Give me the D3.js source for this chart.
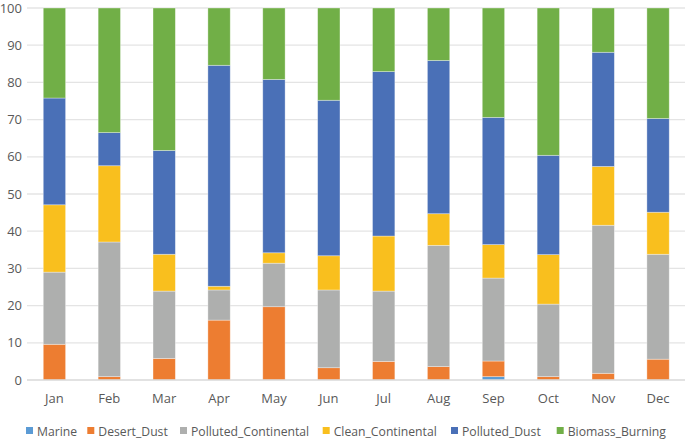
<!DOCTYPE html>
<html><head><meta charset="utf-8">
<script src="https://cdn.jsdelivr.net/npm/d3@7"></script>
<style>
html,body{margin:0;padding:0;background:#fff;}
svg{display:block;font-family:"Open Sans",sans-serif;}
</style></head>
<body><svg id="chart" width="685" height="439"></svg>
<script>
const months = ["Jan","Feb","Mar","Apr","May","Jun","Jul","Aug","Sep","Oct","Nov","Dec"];
const seriesNames = ["Marine","Desert_Dust","Polluted_Continental","Clean_Continental","Polluted_Dust","Biomass_Burning"];
const marine              = [0,   0,    0,    0,    0,    0,    0,    0,    0.9,  0,    0,    0];
const desertDust          = [9.6, 0.9,  5.8,  16.1, 19.7, 3.3,  5.0,  3.6,  4.2,  0.9,  1.8,  5.6];
const pollutedContinental = [19.4,36.2, 18.1, 8.1,  11.7, 20.9, 18.9, 32.6, 22.3, 19.5, 39.8, 28.2];
const cleanContinental    = [18.1,20.5, 9.9,  1.0,  2.8,  9.2,  14.8, 8.5,  9.0,  13.3, 15.8, 11.3];
const pollutedDust        = [28.7,8.9,  27.9, 59.4, 46.6, 41.8, 44.2, 41.2, 34.2, 26.7, 30.7, 25.2];
const biomassBurning      = [24.2,33.5, 38.3, 15.4, 19.2, 24.8, 17.1, 14.1, 29.4, 39.6, 11.9, 29.7];
const yTicks = [0,10,20,30,40,50,60,70,80,90,100];
const colors = ["#5B9BD5","#ED7D31","#AEAFAE","#F9BF1E","#4A70B7","#71AF47"];

const valuesBySeries = [marine, desertDust, pollutedContinental, cleanContinental, pollutedDust, biomassBurning];
const rows = months.map((m,i)=>{
  const r = {month:m};
  seriesNames.forEach((s,j)=>{ r[s] = valuesBySeries[j][i]; });
  return r;
});

const svg = d3.select("#chart");
const mLeft = 27, mRight = 685.5, mTop = 8, mBottom = 380;
const x = d3.scaleBand().domain(months).range([mLeft,mRight]).paddingInner(0.593).paddingOuter(0.2965);
const y = d3.scaleLinear().domain([0,100]).range([mBottom,mTop]);
const color = d3.scaleOrdinal().domain(seriesNames).range(colors);

// gridlines
svg.append("g").selectAll("line").data(yTicks.filter(t=>t>0)).join("line")
  .attr("x1",mLeft).attr("x2",685).attr("y1",d=>y(d)).attr("y2",d=>y(d))
  .attr("stroke","#E4E4E4").attr("stroke-width",1.3);

// y axis labels
const yAxis = d3.axisLeft(y).tickValues(yTicks).tickSize(0).tickPadding(5);
const gy = svg.append("g").attr("transform",`translate(${mLeft},0)`).call(yAxis);
gy.select(".domain").remove();
gy.selectAll("text").attr("font-family","Open Sans, sans-serif").attr("font-size",13).attr("fill","#595959");

// stacked bars
const stacked = d3.stack().keys(seriesNames)(rows);
svg.append("g").selectAll("g").data(stacked).join("g")
  .attr("fill",d=>color(d.key))
  .selectAll("rect").data(d=>d).join("rect")
  .attr("x",d=>x(d.data.month))
  .attr("width",x.bandwidth())
  .attr("y",d=>y(d[1]))
  .attr("height",d=>Math.max(0,y(d[0])-y(d[1])))
  .attr("stroke","#ffffff").attr("stroke-opacity",0.45).attr("stroke-width",0.75);

// baseline
svg.append("line").attr("x1",mLeft).attr("x2",685).attr("y1",y(0)).attr("y2",y(0))
  .attr("stroke","#D9D9D9").attr("stroke-width",1.3);

// x axis labels
const xAxis = d3.axisBottom(x).tickSize(0).tickPadding(14);
const gx = svg.append("g").attr("transform",`translate(0,${mBottom})`).call(xAxis);
gx.select(".domain").remove();
gx.selectAll("text").attr("font-family","Open Sans, sans-serif").attr("font-size",13).attr("fill","#595959");

// legend
const legendX = [26, 87.3, 180, 322.7, 451, 556.7];
const legend = svg.append("g");
seriesNames.forEach((s,i)=>{
  const lx = legendX[i];
  legend.append("rect").attr("x",lx).attr("y",427).attr("width",7).attr("height",7).attr("fill",color(s));
  legend.append("text").attr("x",lx+11).attr("y",435.5).text(s)
    .attr("font-family","Open Sans, sans-serif").attr("font-size",12.2).attr("fill","#595959");
});
</script></body></html>
